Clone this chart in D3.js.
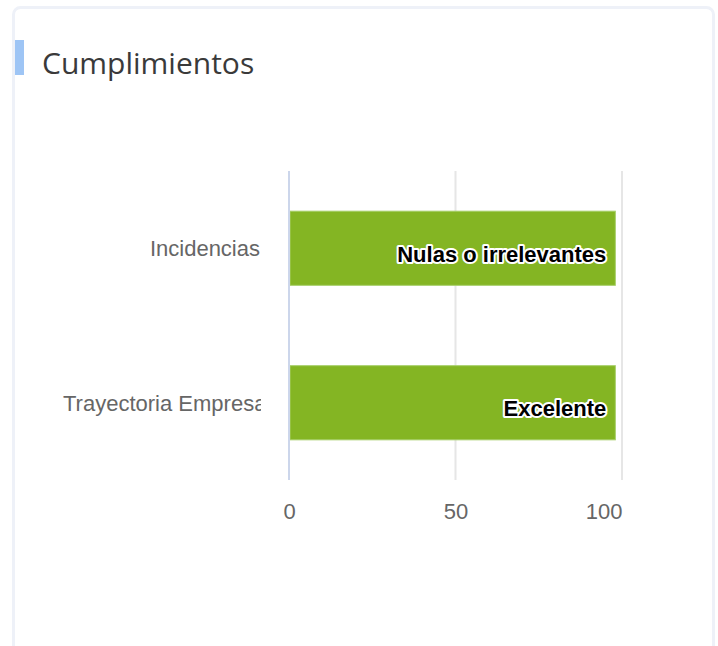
<!DOCTYPE html>
<html>
<head>
<meta charset="utf-8">
<script src="https://cdn.jsdelivr.net/npm/d3@7"></script>
<style>
  html, body { margin: 0; padding: 0; background: #fff; }
  svg { display: block; }
</style>
</head>
<body>
<div id="chart"></div>
<script>
const categories = ["Incidencias", "Trayectoria Empresa"];
const values = [98, 98];
const barLabels = ["Nulas o irrelevantes", "Excelente"];
const xTicks = [0, 50, 100];

const W = 718, H = 646;
const plot = { left: 289, right: 622, top: 171, bottom: 480 };
const labelMaxWidth = 197;

const svg = d3.select("#chart").append("svg")
  .attr("width", W)
  .attr("height", H);

// card
svg.append("rect")
  .attr("x", 13.5).attr("y", 7.5)
  .attr("width", 700).attr("height", 680)
  .attr("rx", 7).attr("ry", 7)
  .attr("fill", "#fff")
  .attr("stroke", "#eef1f8")
  .attr("stroke-width", 3);

// title accent + title
svg.append("rect")
  .attr("x", 15).attr("y", 40)
  .attr("width", 9).attr("height", 35)
  .attr("fill", "#9ec5f5");
svg.append("text")
  .attr("x", 42).attr("y", 74)
  .attr("font-family", "'Open Sans', 'Noto Sans', sans-serif")
  .attr("font-size", 30)
  .attr("fill", "#3a3a3a")
  .text("Cumplimientos");

const x = d3.scaleLinear().domain([0, 100]).range([plot.left, plot.right]);
const y = d3.scaleBand().domain(categories).range([plot.top, plot.bottom]).paddingInner(0.52).paddingOuter(0.26);

// grid
svg.append("g")
  .selectAll("line")
  .data(xTicks.filter(d => d !== 0))
  .join("line")
  .attr("x1", d => x(d)).attr("x2", d => x(d))
  .attr("y1", plot.top).attr("y2", plot.bottom)
  .attr("stroke", "#e6e6e6")
  .attr("stroke-width", 2);

// bars
svg.append("g")
  .selectAll("rect")
  .data(categories)
  .join("rect")
  .attr("x", x(0) + 1)
  .attr("y", d => y(d))
  .attr("width", (d, i) => x(values[i]) - x(0) - 1)
  .attr("height", y.bandwidth())
  .attr("fill", "#84b523")
  .attr("stroke", "#a8cf6a")
  .attr("stroke-width", 1);

// zero axis line
svg.append("line")
  .attr("x1", x(0)).attr("x2", x(0))
  .attr("y1", plot.top).attr("y2", plot.bottom)
  .attr("stroke", "#ccd6eb")
  .attr("stroke-width", 2);

// data labels
svg.append("g")
  .selectAll("text")
  .data(categories)
  .join("text")
  .attr("x", (d, i) => x(values[i]) - 9)
  .attr("y", d => y(d) + y.bandwidth() / 2 + 13.5)
  .attr("text-anchor", "end")
  .attr("font-family", "'Liberation Sans', Arial, sans-serif")
  .attr("font-size", 22)
  .attr("font-weight", "bold")
  .attr("fill", "#000")
  .attr("stroke", "#fff")
  .attr("stroke-width", 4)
  .attr("stroke-linejoin", "round")
  .attr("paint-order", "stroke")
  .text((d, i) => barLabels[i]);

// category axis labels (long ones cut off like the original)
const yAxis = svg.append("g")
  .attr("transform", `translate(${plot.left - 29},0)`)
  .call(d3.axisLeft(y).tickSize(0).tickPadding(0));
yAxis.select(".domain").remove();
yAxis.append("clipPath").attr("id", "catclip")
  .append("rect").attr("x", -300).attr("y", 0).attr("width", 301).attr("height", H);
yAxis.attr("clip-path", "url(#catclip)");
yAxis.selectAll("text")
  .attr("font-family", "'Liberation Sans', Arial, sans-serif")
  .attr("font-size", 22)
  .attr("fill", "#666")
  .attr("dy", "0.36em")
  .each(function () {
    const len = this.getComputedTextLength();
    if (len > labelMaxWidth) {
      d3.select(this).attr("text-anchor", "start").attr("x", -labelMaxWidth);
    }
  });

// x axis labels
const xAxis = svg.append("g")
  .attr("transform", `translate(0,${plot.bottom})`)
  .call(d3.axisBottom(x).tickValues(xTicks).tickSize(0).tickPadding(23));
xAxis.select(".domain").remove();
xAxis.selectAll("text")
  .attr("font-family", "'Liberation Sans', Arial, sans-serif")
  .attr("font-size", 22)
  .attr("fill", "#666")
  .attr("text-anchor", (d, i) => i === xTicks.length - 1 ? "end" : "middle");
</script>
</body>
</html>
